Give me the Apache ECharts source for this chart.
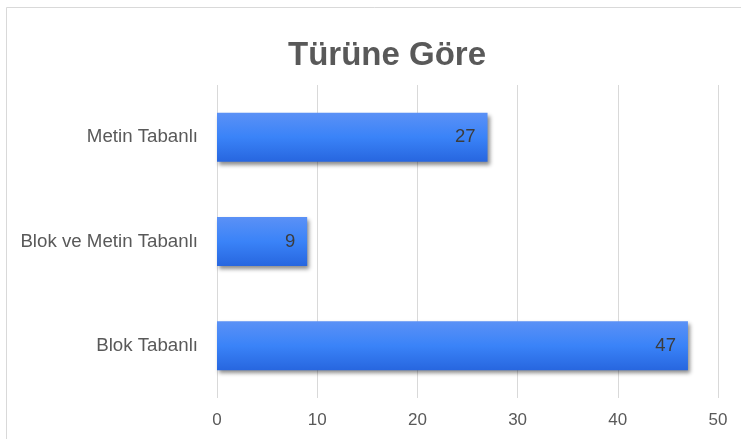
<!DOCTYPE html>
<html><head><meta charset="utf-8">
<script src="https://cdn.jsdelivr.net/npm/echarts@6/dist/echarts.min.js"></script>
<style>html,body{margin:0;padding:0;background:#fff}#c{width:741px;height:439px}</style>
</head><body><div id="c"></div>
<script>
const categories = ['Blok Tabanlı', 'Blok ve Metin Tabanlı', 'Metin Tabanlı'];
const values = [47, 9, 27];
const xTicks = [0, 10, 20, 30, 40, 50];
const titleText = 'Türüne Göre';

const chart = echarts.init(document.getElementById('c'), null, {renderer: 'canvas'});
chart.setOption({
  animation: false,
  backgroundColor: '#ffffff',
  graphic: [{
    type: 'rect', shape: {x: 6.5, y: 7.5, width: 760, height: 460},
    style: {fill: 'none', stroke: '#d9d9d9', lineWidth: 1}, silent: true
  }],
  title: {
    text: titleText, left: 382, top: 34, textAlign: 'center',
    textStyle: {fontFamily: 'Liberation Sans', fontSize: 33, fontWeight: 'bold', color: '#595959'}
  },
  grid: {left: 217, right: 23, top: 85, bottom: 41, containLabel: false},
  xAxis: {
    type: 'value', min: xTicks[0], max: xTicks[xTicks.length - 1], interval: 10,
    axisLine: {show: false}, axisTick: {show: false},
    splitLine: {show: true, lineStyle: {color: '#d9d9d9', width: 1}},
    axisLabel: {margin: 14, fontFamily: 'Liberation Sans', fontSize: 17, color: '#595959'}
  },
  yAxis: {
    type: 'category', data: categories,
    axisLine: {show: false}, axisTick: {show: false},
    axisLabel: {margin: 19, fontFamily: 'Liberation Sans', fontSize: 18.7, color: '#595959'}
  },
  series: [{
    type: 'bar', data: values, barWidth: 49,
    itemStyle: {
      color: new echarts.graphic.LinearGradient(0, 0, 0, 1, [
        {offset: 0, color: '#5b91f6'},
        {offset: 0.5, color: '#3a83f8'},
        {offset: 1, color: '#2766df'}
      ]),
      shadowColor: 'rgba(0,0,0,0.45)', shadowBlur: 4, shadowOffsetX: 2, shadowOffsetY: 3
    },
    label: {
      show: true, position: 'insideRight', distance: 12,
      fontFamily: 'Liberation Sans', fontSize: 18.5, color: '#3c3c3c'
    }
  }]
});
</script></body></html>
